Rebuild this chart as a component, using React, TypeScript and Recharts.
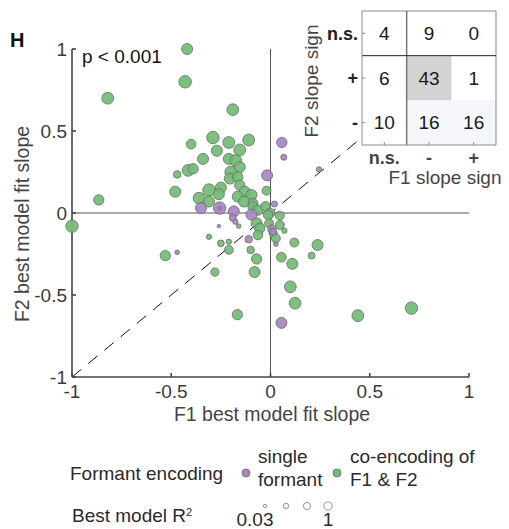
import React from 'react';
import {
  ScatterChart,
  Scatter,
  XAxis,
  YAxis,
  ZAxis,
  ReferenceLine,
  ReferenceArea,
} from 'recharts';

const FONT = '"Liberation Sans", Arial, Helvetica, sans-serif';
const GREEN = '#70bd74';
const PURPLE = '#a886c4';
const EDGE = '#6a6a6a';

// [F1 slope, F2 slope, best model R²]
const coEncoding: [number, number, number][] = [
  [-0.42, 1.0, 0.77], [-0.43, 0.8, 1.0], [-0.82, 0.7, 0.89], [-0.19, 0.63, 0.89],
  [-0.29, 0.46, 1.0], [-0.21, 0.43, 0.89], [-0.11, 0.445, 0.89], [-0.4, 0.42, 0.58],
  [-0.27, 0.38, 0.77], [-0.155, 0.385, 0.89], [-0.34, 0.33, 0.77], [-0.21, 0.33, 0.77],
  [-0.175, 0.32, 0.89], [-0.415, 0.26, 0.89], [-0.39, 0.27, 0.67], [-0.47, 0.235, 0.33],
  [-0.2, 0.25, 0.89], [-0.155, 0.28, 0.77], [-0.205, 0.21, 0.77], [-0.165, 0.22, 0.67],
  [-0.48, 0.13, 0.77], [-0.865, 0.08, 0.67], [-0.31, 0.14, 1.0], [-0.25, 0.155, 0.77],
  [-0.36, 0.09, 0.89], [-0.31, 0.07, 0.77], [-0.26, 0.115, 0.77], [-0.155, 0.17, 0.67],
  [-0.13, 0.13, 0.77], [-0.165, 0.1, 0.77], [-0.096, 0.11, 0.77], [-0.133, 0.07, 0.77],
  [-0.02, 0.136, 0.49], [-0.088, 0.06, 0.58], [-0.088, 0.038, 0.67], [-0.063, 0.018, 0.67],
  [-0.025, 0.04, 0.58], [-0.003, 0.0, 0.58], [0.047, -0.016, 0.49], [-0.012, -0.012, 0.58],
  [-1.0, -0.08, 1.0], [-0.16, -0.08, 0.09], [-0.31, -0.145, 0.14], [-0.25, -0.185, 0.26],
  [-0.21, -0.225, 0.49], [-0.21, -0.175, 0.14], [-0.1, -0.225, 0.33], [-0.07, -0.063, 0.77],
  [-0.054, -0.093, 0.67], [-0.063, -0.134, 0.58], [-0.007, -0.063, 0.49], [0.013, -0.124, 0.41],
  [0.027, -0.155, 0.49], [0.047, -0.073, 0.49], [0.07, -0.108, 0.14], [0.12, -0.18, 0.49],
  [0.055, -0.27, 0.58], [0.11, -0.31, 0.77], [-0.07, -0.28, 0.67], [-0.08, -0.36, 0.77],
  [-0.28, -0.36, 0.41], [-0.53, -0.26, 0.67], [0.1, -0.45, 0.89], [0.124, -0.55, 0.89],
  [-0.167, -0.62, 0.67], [0.237, -0.195, 0.77], [0.207, -0.26, 0.26], [0.44, -0.626, 0.89],
  [0.71, -0.58, 1.0], [0.244, 0.266, 0.14],
];

const singleFormant: [number, number, number][] = [
  [-0.017, 0.23, 0.77], [0.067, 0.34, 0.2], [0.057, 0.43, 0.67], [-0.35, 0.03, 0.77],
  [-0.256, 0.03, 1.0], [-0.256, 0.03, 0.03], [-0.185, 0.01, 0.77], [-0.096, -0.01, 0.77],
  [0.02, 0.055, 0.2], [-0.19, -0.03, 0.26], [-0.177, -0.053, 0.14], [-0.26, -0.08, 0.03],
  [-0.11, -0.16, 0.33], [0.007, -0.098, 0.41], [0.013, -0.114, 0.26], [0.027, -0.19, 0.09],
  [-0.47, -0.24, 0.09], [0.055, -0.67, 0.77],
];

const xTicks = [-1, -0.5, 0, 0.5, 1];
const yTicks = [-1, -0.5, 0, 0.5, 1];

// inset: counts of F1 sign (columns) x F2 sign (rows)
const f1Signs = ['n.s.', '-', '+'];
const f2Signs = ['-', '+', 'n.s.'];
const signCounts = [
  [10, 16, 16], // F2 -
  [6, 43, 1], // F2 +
  [4, 9, 0], // F2 n.s.
];

const sizeLegendValues = [0.03, 0.33, 0.67, 1];

const toPoints = (rows: [number, number, number][]) => rows.map(([x, y, r2]) => ({ x, y, r2 }));

const cellData = signCounts.flatMap((row, ri) =>
  row.map((n, ci) => ({ x: ci + 0.5, y: ri + 0.5, n })),
);

const tickStyle = { fill: '#3a3a3a', fontSize: 19, fontFamily: FONT };

function CountLabel(props: any) {
  const { cx, cy, payload } = props;
  return (
    <text x={cx} y={cy} textAnchor="middle" dominantBaseline="central" fontSize={19} fontFamily={FONT} fill="#1a1a1a">
      {payload.n}
    </text>
  );
}

function Inset() {
  return (
    <ScatterChart width={215} height={200} margin={{ top: 11, right: 9, bottom: 35, left: 32 }}>
      <XAxis
        type="number"
        dataKey="x"
        domain={[0, 3]}
        ticks={[0.5, 1.5, 2.5]}
        tickFormatter={(v) => f1Signs[Math.floor(v)]}
        height={20}
        stroke="#8a8a8a"
        tickSize={-3}
        tickMargin={9}
        tick={{ fill: '#444', fontSize: 18, fontWeight: 700, fontFamily: FONT }}
      />
      <YAxis
        type="number"
        dataKey="y"
        domain={[0, 3]}
        ticks={[0.5, 1.5, 2.5]}
        tickFormatter={(v) => f2Signs[Math.floor(v)]}
        width={40}
        stroke="#8a8a8a"
        tickSize={-3}
        tickMargin={7}
        tick={{ fill: '#222', fontSize: 18, fontWeight: 700, fontFamily: FONT }}
      />
      <ReferenceArea x1={0} x2={3} y1={0} y2={3} fill="#fff" fillOpacity={1} stroke="none" />
      <ReferenceArea x1={1} x2={3} y1={0} y2={1} fill="#f4f6fa" fillOpacity={1} stroke="none" />
      <ReferenceArea x1={1} x2={2} y1={1} y2={2} fill="#d3d3d3" fillOpacity={1} stroke="none" />
      <ReferenceLine y={3} stroke="#8a8a8a" />
      <ReferenceLine x={3} stroke="#8a8a8a" />
      <ReferenceLine x={1} stroke="#777" strokeWidth={1.5} />
      <ReferenceLine y={2} stroke="#222" strokeWidth={1} />
      <Scatter data={cellData} shape={<CountLabel />} isAnimationActive={false} />
    </ScatterChart>
  );
}

const abs = (left: number, top: number, extra: React.CSSProperties = {}): React.CSSProperties => ({
  position: 'absolute',
  left,
  top,
  fontFamily: FONT,
  color: '#2a2a2a',
  whiteSpace: 'nowrap',
  ...extra,
});

function Dot({ color }: { color: string }) {
  return (
    <svg width={10} height={10} style={{ display: 'block' }}>
      <circle cx={5} cy={5} r={4} fill={color} stroke={EDGE} strokeWidth={0.8} />
    </svg>
  );
}

export default function App() {
  return (
    <div style={{ position: 'absolute', left: 0, top: 0, width: 509, height: 529, background: '#fff' }}>
      <ScatterChart width={509} height={529} margin={{ top: 49, right: 40, bottom: 122, left: 22 }}>
        <XAxis
          type="number"
          dataKey="x"
          domain={[-1, 1]}
          ticks={xTicks}
          height={30}
          stroke="#444"
          strokeWidth={1.6}
          tickSize={-4}
          tickMargin={12}
          tick={tickStyle}
          tickFormatter={(v) => String(v)}
        />
        <YAxis
          type="number"
          dataKey="y"
          domain={[-1, 1]}
          ticks={yTicks}
          width={50}
          stroke="#444"
          strokeWidth={1.6}
          tickSize={-4}
          tickMargin={9}
          tick={tickStyle}
          tickFormatter={(v) => String(v)}
        />
        <ZAxis type="number" dataKey="r2" domain={[0, 1]} range={[6, 122]} />
        <ReferenceLine x={0} stroke="#555" strokeWidth={1} />
        <ReferenceLine y={0} stroke="#555" strokeWidth={1} />
        <Scatter
          data={toPoints(coEncoding)}
          fill={GREEN}
          fillOpacity={0.92}
          stroke={EDGE}
          strokeWidth={0.8}
          isAnimationActive={false}
        />
        <Scatter
          data={toPoints(singleFormant)}
          fill={PURPLE}
          fillOpacity={0.92}
          stroke={EDGE}
          strokeWidth={0.8}
          isAnimationActive={false}
        />
        <ReferenceLine
          segment={[{ x: -1, y: -1 }, { x: 1, y: 1 }]}
          stroke="#111"
          strokeWidth={1}
          strokeDasharray="12 9"
        />
      </ScatterChart>

      <div style={abs(10, 29, { fontSize: 20, fontWeight: 700, color: '#111' })}>H</div>
      <div style={abs(82, 46, { fontSize: 19, color: '#111' })}>p &lt; 0.001</div>

      <div
        style={abs(22, 224, {
          fontSize: 19.5,
          color: '#444',
          transform: 'translate(-50%, -50%) rotate(-90deg)',
        })}
      >
        F2 best model fit slope
      </div>
      <div style={abs(272, 414, { fontSize: 19.5, color: '#444', transform: 'translate(-50%, -50%)' })}>
        F1 best model fit slope
      </div>

      <div style={{ position: 'absolute', left: 290, top: 0 }}>
        <Inset />
      </div>
      <div
        style={abs(312, 81, {
          fontSize: 19,
          color: '#444',
          transform: 'translate(-50%, -50%) rotate(-90deg)',
        })}
      >
        F2 slope sign
      </div>
      <div style={abs(445, 178, { fontSize: 19, color: '#444', transform: 'translate(-50%, -50%)' })}>
        F1 slope sign
      </div>

      {/* legends */}
      <div style={abs(70, 463, { fontSize: 19 })}>Formant encoding</div>
      <div style={abs(241, 468)}>
        <Dot color={PURPLE} />
      </div>
      <div style={abs(258, 445, { fontSize: 19, lineHeight: '23px' })}>
        single
        <br />
        formant
      </div>
      <div style={abs(332, 468)}>
        <Dot color={GREEN} />
      </div>
      <div style={abs(350, 445, { fontSize: 19, lineHeight: '23px' })}>
        co-encoding of
        <br />
        F1 &amp; F2
      </div>

      <div style={abs(72, 505, { fontSize: 19 })}>
        Best model R<sup style={{ fontSize: 11, verticalAlign: 'top', position: 'relative', top: 1 }}>2</sup>
      </div>
      <svg style={{ position: 'absolute', left: 255, top: 496 }} width={85} height={20}>
        {sizeLegendValues.map((v, i) => (
          <circle
            key={v}
            cx={10 + i * 21}
            cy={10}
            r={Math.sqrt(2.4 + 15.2 * v)}
            fill="none"
            stroke="#777"
            strokeWidth={0.8}
          />
        ))}
      </svg>
      <div style={abs(255, 520, { fontSize: 19, transform: 'translate(-50%, -50%)' })}>
        {sizeLegendValues[0]}
      </div>
      <div style={abs(328, 520, { fontSize: 19, transform: 'translate(-50%, -50%)' })}>
        {sizeLegendValues[sizeLegendValues.length - 1]}
      </div>
    </div>
  );
}
